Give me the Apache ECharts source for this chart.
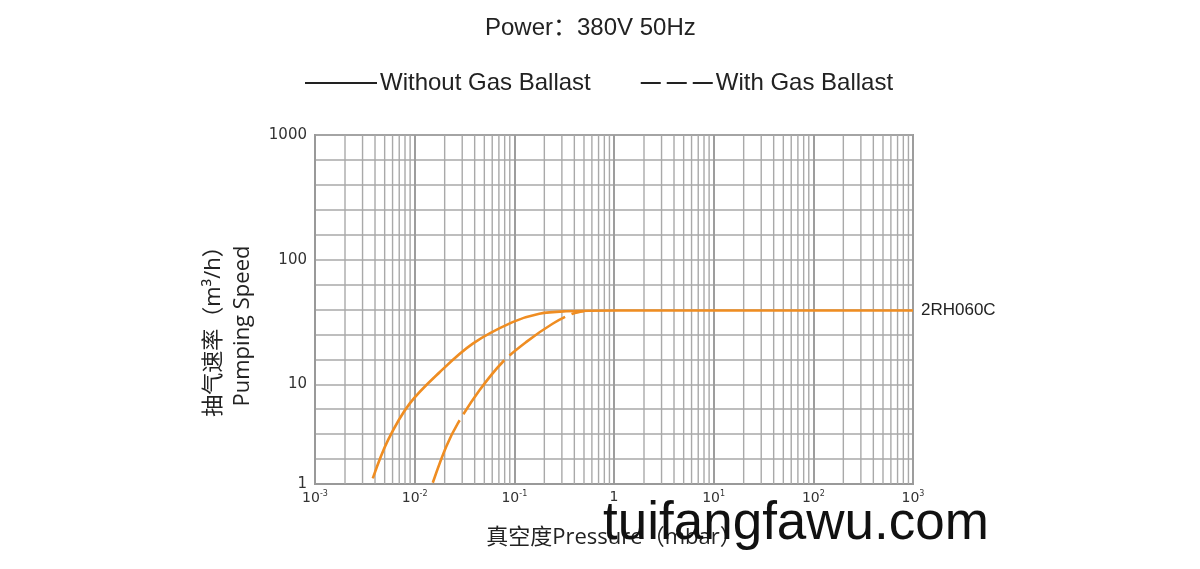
<!DOCTYPE html>
<html>
<head>
<meta charset="utf-8">
<script src="https://cdn.jsdelivr.net/npm/echarts@6/dist/echarts.min.js"></script>
<style>html,body{margin:0;padding:0;background:#fff}#c{width:1200px;height:569px}</style>
</head>
<body>
<div id="c"></div>
<script>
// ---- data ----
const titleText = 'Power：380V 50Hz';
const seriesNames = ['Without Gas Ballast', 'With Gas Ballast'];
const curveLabel = '2RH060C';
const xAxisName = '真空度Pressure（mbar）';
const yAxisNameLines = ['抽气速率（m³/h）', 'Pumping Speed'];
const watermark = 'tuifangfawu.com';
const xTickValues = [0.001, 0.01, 0.1, 1, 10, 100, 1000];
const xTickLabels = ['10|-3', '10|-2', '10|-1', '1', '10|1', '10|2', '10|3'];
const yTickLabels = ['1', '10', '100', '1000'];
// pressure (mbar) / pumping speed (m³/h)
const pressureSolid = [0.0038, 0.0054, 0.0089, 0.0178, 0.0383, 0.096, 0.178, 0.33, 1.12, 1000];
const speedSolid    = [1.14,   2.75,   6.4,    12.5,   21.2,   31.5,  36.8,  38.5, 39.1, 39.1];
const pressureDashed = [0.0152, 0.0207, 0.0271, 0.0447, 0.0764, 0.131, 0.242, 0.383, 0.5];
const speedDashed    = [1.03,   2.36,   4.05,   8.7,    15.1,   21.8,  30.6,  36.8,  38.6];
const minorMultipliers = [2, 3, 4, 5, 6, 7, 8, 9];

// the printed speed axis: 1→10 spans 4 grid steps, each later decade 5 steps
function speedToAxis(v) {
  return v >= 10 ? 4 + 5 * Math.log10(v / 10) : 4 * Math.log10(v);
}
const yLabelSteps = [0, 4, 9, 14];

const minorX = [];
for (let k = -3; k < 3; k++) minorMultipliers.forEach(m => minorX.push([m * Math.pow(10, k), 0]));

const solidData = pressureSolid.map((p, i) => [p, speedToAxis(speedSolid[i])]);
const dashedData = pressureDashed.map((p, i) => [p, speedToAxis(speedDashed[i])]);

const ORANGE = '#EF8D22';
const GRID = '#A9A9A9';
const FONT = '"Liberation Sans", Arial, "Noto Sans CJK SC", sans-serif';
const NAMEFONT = '"Open Sans", "Noto Sans CJK SC", sans-serif';
const NUMFONT = '"DejaVu Sans", sans-serif';

const chart = echarts.init(document.getElementById('c'), null, {renderer: 'canvas'});
chart.setOption({
  animation: false,
  backgroundColor: '#fff',
  title: {
    text: titleText, left: 480, top: 11,
    textStyle: {fontSize: 24, fontWeight: 'normal', color: '#222', fontFamily: FONT}
  },
  legend: {
    top: 66, left: 300, itemWidth: 72, itemHeight: 14, itemGap: 50,
    textStyle: {fontSize: 24, color: '#222', fontFamily: FONT, padding: [0, 0, 0, -2]},
    data: [
      {name: seriesNames[0], icon: 'path://M0,6 L72,6 L72,8 L0,8 Z', itemStyle: {color: '#222'}},
      {name: seriesNames[1], icon: 'path://M0,6 L20,6 L20,8 L0,8 Z M26,6 L46,6 L46,8 L26,8 Z M52,6 L72,6 L72,8 L52,8 Z', itemStyle: {color: '#222'}}
    ]
  },
  grid: {left: 315, right: 287, top: 135, bottom: 85, show: true, borderColor: '#999', borderWidth: 2, backgroundColor: 'transparent'},
  xAxis: {
    type: 'log', logBase: 10, min: 0.001, max: 1000,
    name: xAxisName, nameLocation: 'middle', nameGap: 43,
    nameTextStyle: {fontSize: 22, color: '#222', fontFamily: NAMEFONT},
    axisLine: {show: true, lineStyle: {color: '#999', width: 2}},
    axisTick: {show: false},
    splitLine: {show: true, lineStyle: {color: '#9d9d9d', width: 2}},
    axisLabel: {
      margin: 6, color: '#333',
      formatter: function (v) {
        let idx = 0, best = 1e9;
        xTickValues.forEach((t, i) => { const d = Math.abs(Math.log10(t) - Math.log10(v)); if (d < best) { best = d; idx = i; } });
        const parts = xTickLabels[idx].split('|');
        return parts.length > 1 ? '{b|' + parts[0] + '}{s|' + parts[1] + '}' : '{b|' + parts[0] + '}';
      },
      rich: {
        b: {fontSize: 14, fontFamily: NUMFONT, color: '#333'},
        s: {fontSize: 8, fontFamily: NUMFONT, color: '#333', padding: [0, 0, 8, 0]}
      }
    }
  },
  yAxis: {
    type: 'value', min: 0, max: 14, interval: 1,
    axisLine: {show: true, lineStyle: {color: '#999', width: 2}},
    axisTick: {show: false},
    splitLine: {show: true, lineStyle: {color: GRID, width: 1.6}},
    axisLabel: {
      margin: 8, fontSize: 15, color: '#333', fontFamily: NUMFONT,
      formatter: function (v) {
        const r = Math.round(v);
        if (Math.abs(v - r) > 1e-6) return '';
        const i = yLabelSteps.indexOf(r);
        return i >= 0 ? yTickLabels[i] : '';
      }
    }
  },
  series: [
    {
      name: 'minor', type: 'custom', data: minorX, z: 1, silent: true,
      encode: {x: 0, y: 1},
      renderItem: function (params, api) {
        const top = api.coord([api.value(0), 14]);
        const bot = api.coord([api.value(0), 0]);
        return {type: 'line', shape: {x1: top[0], y1: top[1], x2: bot[0], y2: bot[1]},
          style: {stroke: GRID, lineWidth: 1.4}};
      }
    },
    {
      name: seriesNames[0], type: 'line', data: solidData, smooth: 0.35, symbol: 'none', z: 5,
      lineStyle: {color: ORANGE, width: 2.6},
      itemStyle: {color: ORANGE},
      endLabel: {show: true, formatter: curveLabel, distance: 8, fontSize: 17, color: '#222', fontFamily: FONT}
    },
    {
      name: seriesNames[1], type: 'line', data: dashedData, smooth: 0.35, symbol: 'none', z: 5,
      lineStyle: {color: ORANGE, width: 2.6, type: [68, 7]},
      itemStyle: {color: ORANGE}
    }
  ],
  graphic: [
    {type: 'text', x: 214, y: 326, rotation: Math.PI / 2, silent: true,
      style: {text: yAxisNameLines[0], font: '22px ' + NAMEFONT, fill: '#222', align: 'center', verticalAlign: 'middle'}},
    {type: 'text', x: 243, y: 326, rotation: Math.PI / 2, silent: true,
      style: {text: yAxisNameLines[1], font: '22px ' + NAMEFONT, fill: '#222', align: 'center', verticalAlign: 'middle'}},
    {type: 'text', left: 603, top: 498, z: 100, silent: true,
      style: {text: watermark, font: '53px "Liberation Sans", Arial, sans-serif', fill: '#111'}}
  ]
});
</script>
</body>
</html>
